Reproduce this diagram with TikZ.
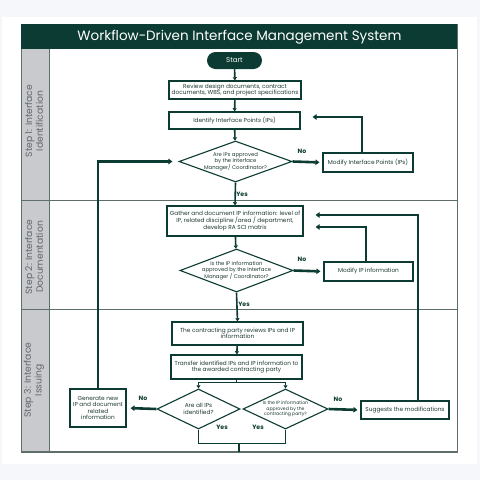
\documentclass[tikz,border=0pt]{standalone}
\usepackage{fontspec}
\setmainfont{Poppins}
\usetikzlibrary{shapes.geometric,arrows.meta}
\definecolor{dkgreen}{HTML}{0B3B32}
\definecolor{pagebg}{HTML}{F5F7FB}
\definecolor{lanegray}{HTML}{C9CACE}
\definecolor{lanetext}{HTML}{5F666C}
\definecolor{framecol}{HTML}{5E6E69}
\definecolor{boxtext}{HTML}{1E3A34}
\tikzset{
  procbox/.style={draw=dkgreen, line width=1.1pt, fill=white, inner sep=0pt, align=center,
    font=\fontsize{5.8}{6.6}\selectfont, text=boxtext},
  decbox/.style={diamond, draw=dkgreen, line width=1.1pt, fill=white, inner xsep=-10pt, inner ysep=-4pt, align=center,
    font=\fontsize{5.3}{6.4}\selectfont, text=boxtext, aspect=2.7},
  flow/.style={draw=dkgreen, line width=1.6pt, -{Triangle[length=3.2pt,width=4pt]}},
  plain/.style={draw=dkgreen, line width=1.6pt},
  fb/.style={draw=dkgreen, line width=2.6pt, -{Triangle[length=4pt,width=5.5pt]}},
  yn/.style={font=\bfseries\fontsize{6.2}{7}\selectfont, text=dkgreen, inner sep=0pt},
  lanelabel/.style={rotate=90, align=center, text=lanetext, font=\fontsize{9.2}{10.6}\selectfont, inner sep=0pt},
}
\begin{document}
\begin{tikzpicture}[x=1pt,y=-1pt]
\useasboundingbox (0,0) rectangle (480,480);
\fill[pagebg] (0,0) rectangle (480,480);
\fill[white] (2,17) rectangle (477,464);
% lanes
\fill[lanegray] (21,49) rectangle (49,452);
\draw[framecol, line width=0.9pt] (21,24) rectangle (457,452);
\draw[framecol, line width=0.9pt] (49,49) -- (49,452);
\draw[framecol, line width=0.9pt] (21,200) -- (457,200);
\draw[framecol, line width=0.9pt] (21,309) -- (457,309);
\draw[framecol, line width=1.6pt] (21,452) -- (457,452);
% title
\fill[dkgreen] (21,24) rectangle (457,49);
\node[text=white, font=\fontsize{13.5}{15}\selectfont, inner sep=0pt] (title) at (239.5,37) {Workflow-Driven Interface Management System};
\node[lanelabel] (lane1) at (34,121) {Step 1: Interface\\Identification};
\node[lanelabel] (lane2) at (34,257) {Step 2: Interface\\Documentation};
\node[lanelabel] (lane3) at (34,380) {Step 3: Interface\\Issuing};
% nodes
\node[fill=dkgreen, rounded corners=8.5pt, minimum width=55pt, minimum height=17pt, inner sep=0pt,
  text=white, font=\fontsize{7}{8}\selectfont] (start) at (234.5,60.5) {Start};
\node[procbox, minimum width=132pt, minimum height=18pt] (review) at (235,90)
  {Review design documents, contract\\documents, WBS, and project specifications};
\node[procbox, minimum width=131pt, minimum height=17pt] (identify) at (234.5,120.5)
  {Identify Interface Points (IPs)};
\node[decbox, minimum width=113pt, minimum height=41pt] (d1) at (235.5,161.5)
  {Are IPs approved\\by the Interface\\Manager/ Coordinator?};
\node[procbox, minimum width=90pt, minimum height=19pt] (modify1) at (368,162.5)
  {Modify Interface Points (IPs)};
\node[procbox, minimum width=136pt, minimum height=30pt, font=\fontsize{5.8}{7}\selectfont] (gather) at (235,221)
  {Gather and document IP information: level of\\IP, related discipline /area / department,\\develop RA SCI matrix};
\node[decbox, minimum width=113pt, minimum height=43pt] (d2) at (236.5,270.5)
  {Is the IP information\\approved by the Interface\\Manager / Coordinator?};
\node[procbox, minimum width=89pt, minimum height=19pt] (modify2) at (368.5,271.5)
  {Modify IP information};
\node[procbox, minimum width=131pt, minimum height=23pt] (contract) at (237.5,333.5)
  {The contracting party reviews IPs and IP\\information};
\node[procbox, minimum width=131pt, minimum height=24pt] (transfer) at (236.5,367)
  {Transfer identified IPs and IP information to\\the awarded contracting party};
\node[decbox, minimum width=83pt, minimum height=40pt, aspect=2, font=\fontsize{5.8}{6.7}\selectfont] (d3) at (198.5,409)
  {Are all IPs\\identified?};
\node[decbox, minimum width=85pt, minimum height=40pt, aspect=2,
  font=\fontsize{4.6}{5.4}\selectfont] (d4) at (285.5,409)
  {Is the IP information\\approved by the\\contracting party?};
\node[procbox, minimum width=56pt, minimum height=38pt] (generate) at (98,408)
  {Generate new\\IP and document\\related\\information};
\node[procbox, minimum width=88pt, minimum height=18pt] (suggest) at (405,410)
  {Suggests the modifications};
\coordinate (bottomend) at (239,452);
% connectors
\draw[flow] (start) -- (review);
\draw[flow] (review) -- (identify);
\draw[flow] (identify) -- (d1);
\draw[fb, shorten >=3pt] (d1.east) -- (modify1.west);
\draw[fb, shorten >=12pt] ([xshift=-6pt]modify1.north) |- ([yshift=3.5pt]identify.east);
\draw[flow] (d1.south) -- (gather.north);
\draw[flow] (gather) -- (d2);
\draw[fb, shorten >=3pt] (d2.east) -- (modify2.west);
\draw[fb, shorten >=12pt] ([xshift=-2.5pt]modify2.north) |- ([yshift=-6pt]gather.east);
\draw[fb, shorten >=12pt] ([xshift=13pt]suggest.north) |- ([yshift=6pt]gather.east);
\draw[flow] (d2.south) -- (contract.north);
\draw[flow] (contract) -- (transfer);
\draw[flow] (transfer.south) -- ++(0,3) -| (d3.north);
\draw[flow] (transfer.south) -- ++(0,3) -| (d4.north);
\draw[fb, shorten >=4pt] (d3.west) -- (generate.east);
\draw[fb, shorten >=3pt] (d4.east) -- (suggest.west);
\draw[fb, shorten >=6pt] (generate.north) |- (d1.west);
\draw[plain] (d3.south) -- ++(0,14) -| (d4.south);
\draw[plain] (bottomend |- d3.south) ++(0,14) -- (bottomend);
% labels
\node[yn] (no1) at (302,151) {No};
\node[yn] (yes1) at (242,194) {Yes};
\node[yn] (no2) at (302,259) {No};
\node[yn] (yes2) at (244,304) {Yes};
\node[yn] (no3) at (143,398) {No};
\node[yn] (no4) at (338,399) {No};
\node[yn] (yes3) at (222,427) {Yes};
\node[yn] (yes4) at (258,427) {Yes};
\end{tikzpicture}
\end{document}
